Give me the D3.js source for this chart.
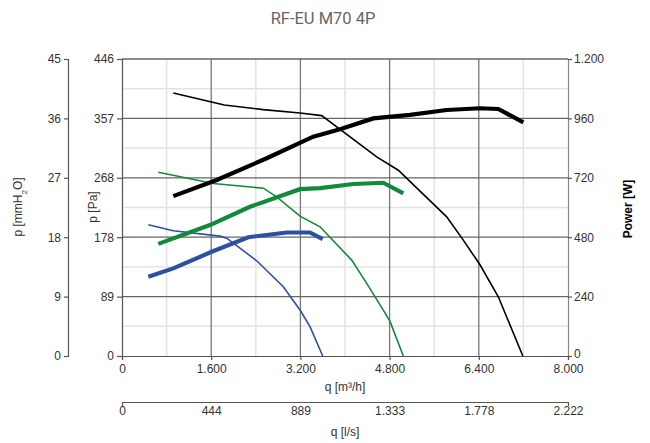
<!DOCTYPE html>
<html><head><meta charset="utf-8">
<script src="https://cdn.jsdelivr.net/npm/d3@7"></script>
<style>
body{margin:0;background:#fff;}
text{font-family:"Liberation Sans",Arial,sans-serif;}
</style></head>
<body><svg id="c" width="650" height="443"></svg>
<script>
const title = "RF-EU M70 4P";
const qTicks = [0,1600,3200,4800,6400,8000];
const qTickLabels = ["0","1.600","3.200","4.800","6.400","8.000"];
const lsTickLabels = ["0","444","889","1.333","1.778","2.222"];
const paTickLabels = ["0","89","178","268","357","446"];
const mmTicks = [0,9,18,27,36,45];
const powTicks = [0,240,480,720,960,1200];
const powTickLabels = ["0","240","480","720","960","1.200"];

// pressure curves (q m3/h, p Pa)
const blackP = [[920,395],[1835,377],[2534,370],[3193,365],[3582,361],[4569,299],[4956,279],[5824,209],[6122,174],[6421,137],[6750,89],[7190,0]];
const greenP = [[651,276],[1638,259],[2534,252],[2775,239],[3193,210],[3552,194],[4120,144],[4389,109],[4687,69],[4807,52],[5046,0]];
const blueP  = [[472,197],[920,188],[1758,180],[1878,177],[2416,143],[2893,104],[3193,69],[3372,44],[3600,0]];
// power curves (q m3/h, W)
const blackW = [[920,646],[1699,711],[2596,799],[3431,886],[3910,916],[4508,960],[5166,974],[5824,994],[6421,1001],[6750,998],[7198,944]];
const greenW = [[651,453],[1578,529],[2296,603],[3193,674],[3552,678],[4149,695],[4687,700],[5046,657]];
const blueW  = [[472,320],[920,354],[1609,421],[2265,480],[2954,499],[3372,499],[3600,472]];

const svg = d3.select("#c");
const L=122, R=568, T=59, B=356;
const x = d3.scaleLinear().domain([0,8000]).range([L,R]);
const yPa = d3.scaleLinear().domain([0,446]).range([B,T]);
const yMm = d3.scaleLinear().domain([0,45]).range([B,T]);
const yW = d3.scaleLinear().domain([0,1200]).range([B,T]);

// grid minor
const g = svg.append("g");
const minorX = d3.range(5).map(i=>(qTicks[i]+qTicks[i+1])/2);
const minorY = d3.range(5).map(i=>(powTicks[i]+powTicks[i+1])/2);
g.selectAll(".mx").data(minorX).join("line").attr("x1",d=>x(d)).attr("x2",d=>x(d)).attr("y1",T).attr("y2",B).attr("stroke","#e3e3e3").attr("stroke-width",1.5);
g.selectAll(".my").data(minorY).join("line").attr("y1",d=>yW(d)).attr("y2",d=>yW(d)).attr("x1",L).attr("x2",R).attr("stroke","#e3e3e3").attr("stroke-width",1.5);
// grid major
g.selectAll(".Mx").data(qTicks.slice(1,5)).join("line").attr("x1",d=>x(d)).attr("x2",d=>x(d)).attr("y1",T).attr("y2",B).attr("stroke","#777").attr("stroke-width",1.3);
g.selectAll(".My").data(powTicks.slice(1)).join("line").attr("y1",d=>yW(d)).attr("y2",d=>yW(d)).attr("x1",L).attr("x2",R).attr("stroke","#666").attr("stroke-width",1.3);

function styleAxis(sel){
  sel.selectAll("path,line").attr("stroke","#555").attr("stroke-width",1.2);
  sel.selectAll("text").attr("fill","#333").style("font-size","12px").style("font-family","Liberation Sans, Arial, sans-serif");
}
// bottom q axis
const ax1 = svg.append("g").attr("transform",`translate(0,${B})`)
  .call(d3.axisBottom(x).tickValues(qTicks).tickFormat((d,i)=>qTickLabels[i]).tickSize(4).tickPadding(4));
styleAxis(ax1);
// secondary l/s axis
const ax2 = svg.append("g").attr("transform",`translate(0,402)`)
  .call(d3.axisBottom(x).tickValues(qTicks).tickFormat((d,i)=>lsTickLabels[i]).tickSizeInner(0).tickSizeOuter(4).tickPadding(4));
styleAxis(ax2);
// Pa axis
const ax3 = svg.append("g").attr("transform",`translate(${L},0)`)
  .call(d3.axisLeft(yPa).tickValues(d3.range(6).map(i=>446*i/5)).tickFormat((d,i)=>paTickLabels[i]).tickSize(5).tickPadding(3));
styleAxis(ax3);
// mmH2O axis
const ax4 = svg.append("g").attr("transform",`translate(68,0)`)
  .call(d3.axisLeft(yMm).tickValues(mmTicks).tickSize(4).tickPadding(3));
styleAxis(ax4);
// power axis
const ax5 = svg.append("g").attr("transform",`translate(${R},0)`)
  .call(d3.axisRight(yW).tickValues(powTicks).tickFormat((d,i)=>powTickLabels[i]).tickSize(4).tickPadding(2));
styleAxis(ax5);
ax5.select(".domain").attr("stroke","#888");
ax5.selectAll(".tick text").filter((d,i)=>i===0).attr("dy","0.1em");

// curves
const lineP = d3.line().x(d=>x(d[0])).y(d=>yPa(d[1]));
const lineW = d3.line().x(d=>x(d[0])).y(d=>yW(d[1]));
const cols = {black:"#000",green:"#118a3b",blue:"#2d50a2"};
[[blueP,cols.blue],[greenP,cols.green],[blackP,cols.black]].forEach(([d,c])=>{
  svg.append("path").attr("d",lineP(d)).attr("fill","none").attr("stroke",c).attr("stroke-width",1.6);
});
[[blueW,cols.blue],[greenW,cols.green],[blackW,cols.black]].forEach(([d,c])=>{
  svg.append("path").attr("d",lineW(d)).attr("fill","none").attr("stroke",c).attr("stroke-width",4.2);
});

// labels
svg.append("text").attr("x",323).attr("y",24).attr("text-anchor","middle").attr("fill","#666").style("font-size","16.5px").style("font-family","Roboto, Liberation Sans, sans-serif").text(title);
svg.append("text").attr("transform","translate(22,207) rotate(-90)").attr("text-anchor","middle").attr("fill","#333").style("font-size","12px")
  .html('p [mmH<tspan baseline-shift="sub" font-size="8">2</tspan>O]');
svg.append("text").attr("transform","translate(97,207) rotate(-90)").attr("text-anchor","middle").attr("fill","#333").style("font-size","12px").text("p [Pa]");
svg.append("text").attr("transform","translate(632,209) rotate(-90)").attr("text-anchor","middle").attr("fill","#000").style("font-size","12px").style("font-weight","bold").text("Power [W]");
svg.append("text").attr("x",345).attr("y",391).attr("text-anchor","middle").attr("fill","#333").style("font-size","12px").text("q [m³/h]");
svg.append("text").attr("x",345).attr("y",436).attr("text-anchor","middle").attr("fill","#333").style("font-size","12px").text("q [l/s]");
</script></body></html>
